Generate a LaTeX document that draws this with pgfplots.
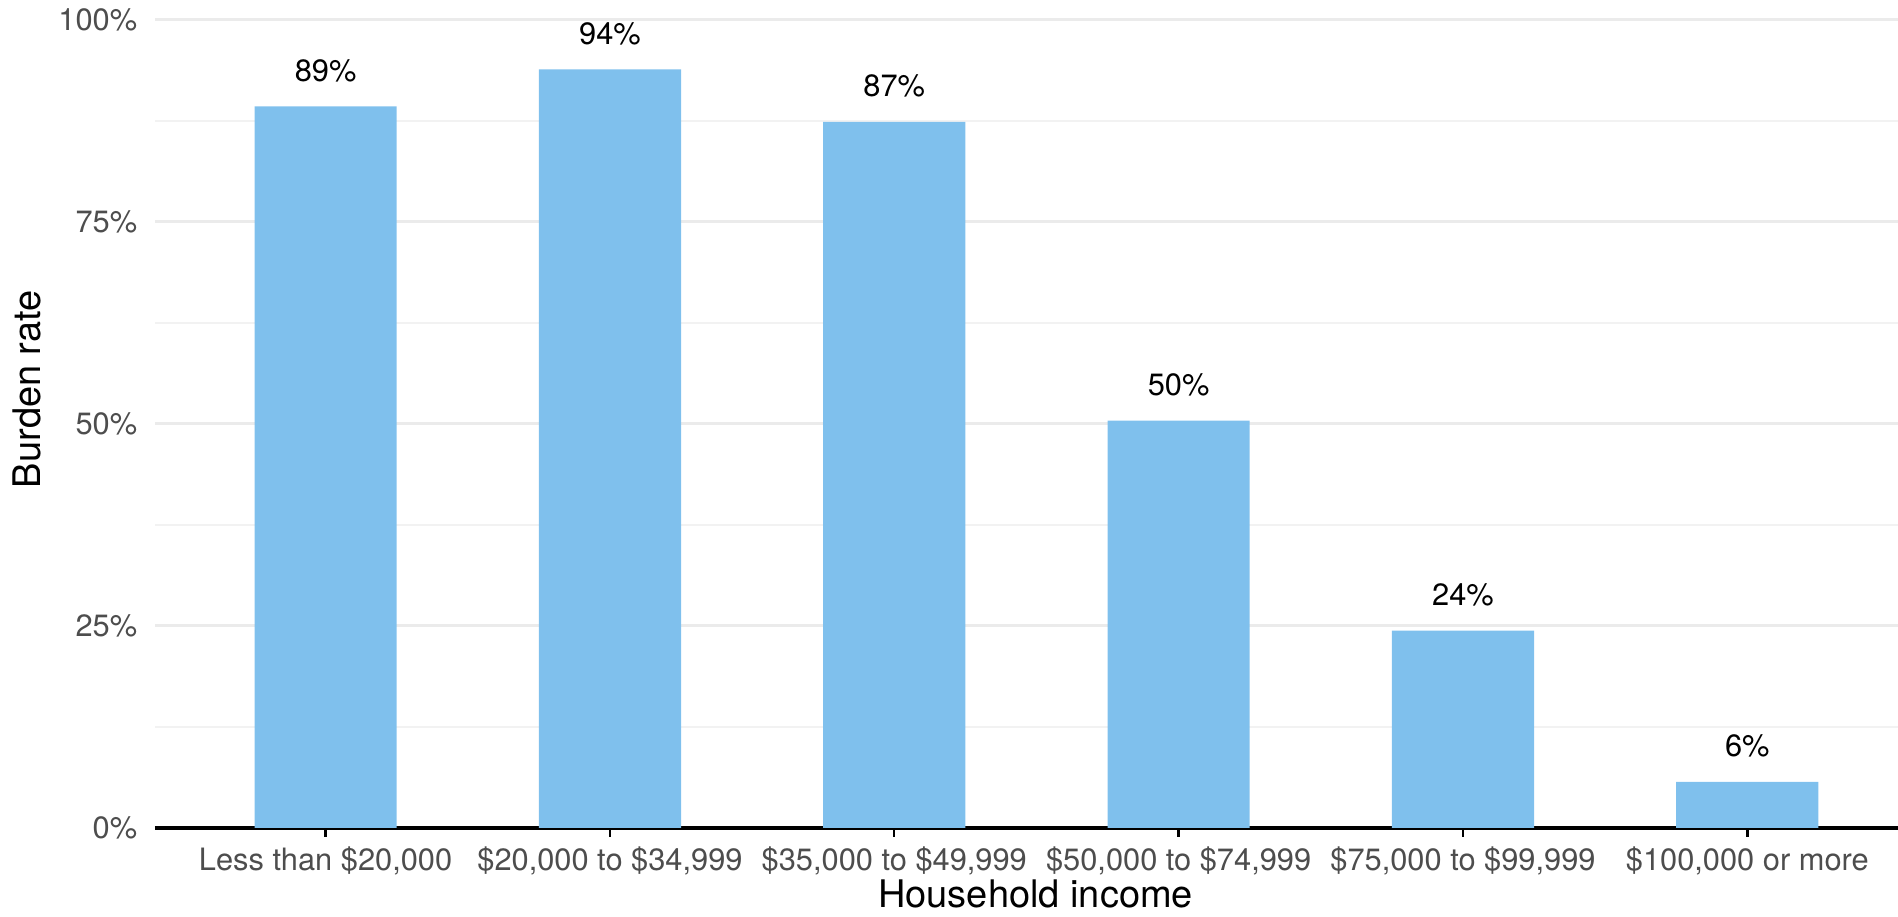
\documentclass[border=0pt]{standalone}
\usepackage{fontspec}
\setmainfont{TeX Gyre Heros}
\usepackage{pgfplots}
\pgfplotsset{compat=1.18}

\definecolor{barblue}{RGB}{127,192,237}
\definecolor{ticktext}{RGB}{77,77,77}
\definecolor{gridmajor}{RGB}{235,235,235}
\definecolor{gridminor}{RGB}{242,242,242}

% Burden rate (%) by household income bracket
\pgfplotstableread{
x rate
0 89.3
1 93.9
2 87.4
3 50.4
4 24.4
5 5.7
}\burden

\begin{document}
\begin{tikzpicture}
\path[use as bounding box] (-77.5pt,-44.15pt) rectangle (871.5pt,413.9pt);
\begin{axis}[
  scale only axis,
  width=871.5pt, height=403.9pt,
  xmin=-0.6, xmax=5.53,
  ymin=0, ymax=100,
  axis x line*=bottom,
  axis y line*=left,
  x axis line style={black, line width=1.8pt},
  y axis line style={draw=none},
  xtick={0,1,2,3,4,5},
  xticklabels={Less than \$20{,}000, \$20{,}000 to \$34{,}999, \$35{,}000 to \$49{,}999, \$50{,}000 to \$74{,}999, \$75{,}000 to \$99{,}999, \$100{,}000 or more},
  x tick style={black, line width=1.2pt},
  tick align=outside,
  major tick length=4.5pt,
  xticklabel style={font=\fontsize{15.4}{18}\selectfont, text=ticktext, anchor=base, yshift=-17pt, inner sep=0pt},
  ytick={0,25,50,75,100},
  yticklabels={0\%,25\%,50\%,75\%,100\%},
  minor ytick={12.5,37.5,62.5,87.5},
  y tick style={draw=none},
  minor y tick style={draw=none},
  yticklabel style={font=\fontsize{15.4}{18}\selectfont, text=ticktext, anchor=east, inner sep=0pt, xshift=-4.2pt},
  ymajorgrids, yminorgrids,
  major grid style={gridmajor, line width=1.5pt},
  minor grid style={gridminor, line width=1pt},
  xlabel={Household income},
  xlabel style={at={(rel axis cs:0.5052,0)}, anchor=base, yshift=-39.8pt, font=\fontsize{19}{23}\selectfont, inner sep=0pt},
  ylabel={Burden rate},
  ylabel style={at={(rel axis cs:0,0.543)}, anchor=center, yshift=64pt, font=\fontsize{19}{23}\selectfont, inner sep=0pt},
  clip=false,
]
\addplot[ybar, bar width=0.5, bar shift=0pt, fill=barblue, draw=none,
  nodes near coords={\pgfmathprintnumber[fixed,precision=0,assume math mode=true]{\pgfplotspointmeta}\%},
  nodes near coords style={font=\fontsize{15.4}{18}\selectfont, text=black, anchor=base, yshift=12.5pt, inner sep=0pt},
] table[x=x, y=rate] {\burden};
\end{axis}
\end{tikzpicture}
\end{document}
